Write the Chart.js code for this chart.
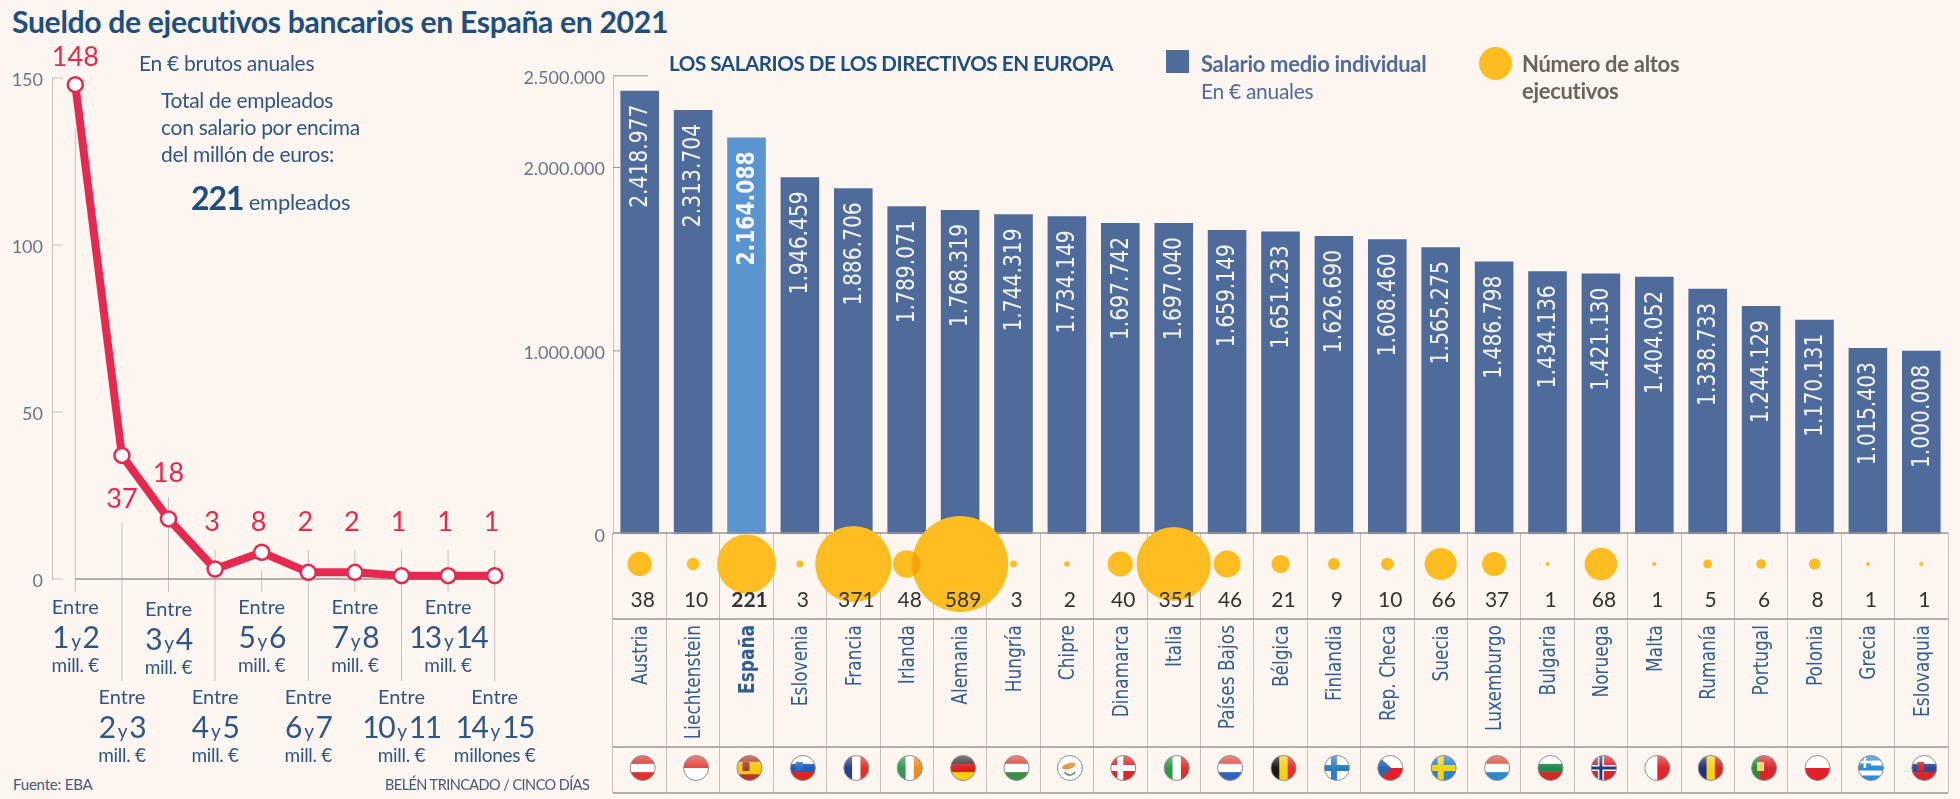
<!DOCTYPE html>
<html lang="es">
<head>
<meta charset="utf-8">
<title>Sueldo de ejecutivos bancarios en España en 2021</title>
<script src="https://cdn.jsdelivr.net/npm/chart.js@4/dist/chart.umd.min.js"></script>
<style>
    html, body { margin: 0; padding: 0; background: #fdf5ef; }
    #page { position: relative; width: 1960px; height: 799px; overflow: hidden; font-family: Lato, sans-serif; color: #2f5688; }
    canvas { position: absolute; }
    .t { position: absolute; transform: translateY(-50%); white-space: nowrap; }
    .title { font-size: 30.2px; font-weight: 700; color: #1f4e80; letter-spacing: -0.35px; }
    .note { font-size: 21px; letter-spacing: -0.3px; }
    .legend { font-size: 22px; letter-spacing: -0.3px; }
    .src { font-size: 15px; color: #45597a; letter-spacing: -0.2px; }
    .range { line-height: 1; }
    .range .a { font-size: 20px; height: 26px; }
    .range .b { font-size: 30px; height: 30px; line-height: 28px; letter-spacing: -1.5px; word-spacing: -3px; }
    .range .b small { font-size: 19px; }
    .range .m { font-size: 19px; height: 22px; line-height: 26px; letter-spacing: -0.3px; }
</style>
</head>
<body>
<div id="page">
    <canvas id="lineChart" width="540" height="660" style="left:0;top:40px"></canvas>
    <canvas id="barChart" width="1460" height="496" style="left:500px;top:57px"></canvas>
    <canvas id="tableChart" width="1460" height="299" style="left:500px;top:500px"></canvas>

    <div class="t title" style="left:12px;top:21px">Sueldo de ejecutivos bancarios en España en 2021</div>

    <div class="t note" style="left:139px;top:62px">En € brutos anuales</div>
    <div class="t note" style="left:161px;top:99px">Total de empleados</div>
    <div class="t note" style="left:161px;top:126px">con salario por encima</div>
    <div class="t note" style="left:161px;top:153px">del millón de euros:</div>
    <div class="t note" style="left:191px;top:197px"><b style="font-size:32px;color:#1f4e80;letter-spacing:-1px">221</b> <span style="font-size:22px">empleados</span></div>

    <div class="t" style="left:669px;top:63px;font-size:20.6px;font-weight:700;color:#1f4e80;letter-spacing:-0.45px">LOS SALARIOS DE LOS DIRECTIVOS EN EUROPA</div>

    <div style="position:absolute;left:1166px;top:50px;width:23px;height:23px;background:#4f6b9b"></div>
    <div class="t legend" style="left:1201px;top:63px;font-weight:700;color:#4f6b9b">Salario medio individual</div>
    <div class="t legend" style="left:1201px;top:90px;color:#4f6b9b;font-size:21px">En € anuales</div>
    <div style="position:absolute;left:1479px;top:47px;width:33px;height:33px;border-radius:50%;background:#fdbc1f"></div>
    <div class="t legend" style="left:1522px;top:63px;font-weight:700;color:#6b6459">Número de altos</div>
    <div class="t legend" style="left:1522px;top:90px;font-weight:700;color:#6b6459">ejecutivos</div>

    <div class="t src" style="left:13px;top:784px">Fuente: EBA</div>
    <div class="t src" style="left:385px;top:784px;font-size:14.5px;letter-spacing:-0.55px">BELÉN TRINCADO / CINCO DÍAS</div>
</div>

<script>
// Left chart: employees per salary band
const rangeFrom = ['1', '2', '3', '4', '5', '6', '7', '10', '13', '14'];
const rangeTo = ['2', '3', '4', '5', '6', '7', '8', '11', '14', '15'];
const rangeUnit = ['mill. €', 'mill. €', 'mill. €', 'mill. €', 'mill. €', 'mill. €', 'mill. €', 'mill. €', 'mill. €', 'millones €'];
const employees = [148, 37, 18, 3, 8, 2, 2, 1, 1, 1];
const employeeTicks = [0, 50, 100, 150];

// Right chart: European countries
const countries = ['Austria', 'Liechtenstein', 'España', 'Eslovenia', 'Francia', 'Irlanda', 'Alemania', 'Hungría', 'Chipre', 'Dinamarca', 'Italia', 'Países Bajos', 'Bélgica', 'Finlandia', 'Rep. Checa', 'Suecia', 'Luxemburgo', 'Bulgaria', 'Noruega', 'Malta', 'Rumanía', 'Portugal', 'Polonia', 'Grecia', 'Eslovaquia'];
const salaries = [2418977, 2313704, 2164088, 1946459, 1886706, 1789071, 1768319, 1744319, 1734149, 1697742, 1697040, 1659149, 1651233, 1626690, 1608460, 1565275, 1486798, 1434136, 1421130, 1404052, 1338733, 1244129, 1170131, 1015403, 1000008];
const executives = [38, 10, 221, 3, 371, 48, 589, 3, 2, 40, 351, 46, 21, 9, 10, 66, 37, 1, 68, 1, 5, 6, 8, 1, 1];
const salaryTicks = [0, 1000000, 2000000, 2500000];

const highlight = 'España';

// Colours
const RED = '#e8294f';
const BLUE = '#4f6b9b';
const LIGHT_BLUE = '#5b95d0';
const YELLOW = '#fdbc1f';
const RULE = '#9c9496';
const GUIDE = '#c8bfbf';
const TICK_TEXT = '#68768c';

// Layout that isn't data: where the red numbers sit and how far each guide runs
const lineLabelY = [57, 499, 473, 522, 522, 522, 522, 522, 522, 522];
const lineLabelX = [0, 0, 0, -3, -3, -3, -3, -3, -3, -3];
const guideTop = [128, 523, 497, 550, 570, 550, 550, 550, 550, 550];
const guideBottom = [592, 681, 592, 681, 592, 681, 592, 681, 592, 681];
const bandLabelTop = [609, 699, 611, 699, 609, 699, 609, 699, 609, 699];

const R5 = '#e2312d', W = '#ffffff';
// Stripes for the little flags, one per country
const flags = [
    { dir: 'h', bands: [R5, W, R5] },
    { dir: 'h', bands: ['#e4443c', W] },
    { dir: 'h', bands: ['#b5382b', '#f6c90e', '#f6c90e', '#b5382b'], extra: 'crest', crest: '#a5402c' },
    { dir: 'h', bands: [W, '#1d5fb5', '#e2231a'], extra: 'crest', crest: '#2b6dbd' },
    { dir: 'v', bands: ['#2a3f8f', W, '#e2312d'] },
    { dir: 'v', bands: ['#2f9a4a', W, '#f28c1c'] },
    { dir: 'h', bands: ['#3a3a3a', '#d8231f', '#f8cf12'] },
    { dir: 'h', bands: ['#e4443c', W, '#3b8f45'] },
    { dir: 'h', bands: [W], extra: 'cyprus' },
    { dir: 'h', bands: ['#e0262b'], extra: 'cross', cross: W },
    { dir: 'v', bands: ['#2f9a4a', W, '#e2312d'] },
    { dir: 'h', bands: ['#e4503f', W, '#2c66c0'] },
    { dir: 'v', bands: ['#1a1a1a', '#f8d312', '#e2312d'] },
    { dir: 'h', bands: [W], extra: 'cross', cross: '#2a7cc7' },
    { dir: 'h', bands: [W, '#e0202a'], extra: 'wedge' },
    { dir: 'h', bands: ['#2a84cf'], extra: 'cross', cross: '#f7d21a' },
    { dir: 'h', bands: ['#e4503f', W, '#2a8ad0'] },
    { dir: 'h', bands: [W, '#1e8a4c', '#d6261f'] },
    { dir: 'h', bands: ['#d8262c'], extra: 'cross', cross: W, inner: '#243a80' },
    { dir: 'v', bands: [W, '#e2262b'] },
    { dir: 'v', bands: ['#22307f', '#f8d312', '#d8262c'] },
    { dir: 'v', bands: ['#2a8a3a', '#d8262c', '#d8262c'], extra: 'crest', crest: '#f3d36b' },
    { dir: 'h', bands: [W, '#e0202a'] },
    { dir: 'h', bands: ['#2a8fd6', W, '#2a8fd6', W, '#2a8fd6'], extra: 'greek' },
    { dir: 'h', bands: [W, '#2a4aa0', '#d8262c'], extra: 'crest', crest: '#d8262c' }
];

function drawFlag(ctx, spec, cx, cy, r) {
    ctx.save();
    ctx.beginPath();
    ctx.arc(cx, cy, r, 0, Math.PI * 2);
    ctx.clip();
    const n = spec.bands.length;
    const d = r * 2;
    spec.bands.forEach((colour, i) => {
        ctx.fillStyle = colour;
        if (spec.dir === 'h') ctx.fillRect(cx - r, cy - r + d * i / n, d, d / n + 0.5);
        else ctx.fillRect(cx - r + d * i / n, cy - r, d / n + 0.5, d);
    });
    if (spec.extra === 'cross') {
        ctx.fillStyle = spec.cross;
        ctx.fillRect(cx - 6, cy - r, 6, d);
        ctx.fillRect(cx - r, cy - 3, d, 6);
        if (spec.inner) {
            ctx.fillStyle = spec.inner;
            ctx.fillRect(cx - 4.5, cy - r, 3, d);
            ctx.fillRect(cx - r, cy - 1.5, d, 3);
        }
    } else if (spec.extra === 'wedge') {
        ctx.fillStyle = '#2a66b5';
        ctx.beginPath();
        ctx.moveTo(cx - r, cy - r);
        ctx.lineTo(cx + 1, cy);
        ctx.lineTo(cx - r, cy + r);
        ctx.fill();
    } else if (spec.extra === 'crest') {
        ctx.fillStyle = spec.crest;
        ctx.fillRect(cx - 7, cy - 6, 7, 9);
    } else if (spec.extra === 'cyprus') {
        ctx.fillStyle = '#e8963a';
        ctx.beginPath();
        ctx.ellipse(cx - 1, cy - 2, 7, 3, -0.3, 0, Math.PI * 2);
        ctx.fill();
        ctx.strokeStyle = '#5c8f5a';
        ctx.lineWidth = 1.5;
        ctx.beginPath();
        ctx.arc(cx, cy + 1, 6, 0.5, Math.PI - 0.5);
        ctx.stroke();
    } else if (spec.extra === 'greek') {
        ctx.fillStyle = '#2a8fd6';
        ctx.fillRect(cx - r, cy - r, r, r);
        ctx.fillStyle = W;
        ctx.fillRect(cx - r, cy - r / 2 - 1, r, 2.5);
        ctx.fillRect(cx - r / 2 - 1, cy - r, 2.5, r);
    }
    // Gloss on the upper half
    const gloss = ctx.createLinearGradient(0, cy - r, 0, cy);
    gloss.addColorStop(0, 'rgba(255,255,255,0.35)');
    gloss.addColorStop(1, 'rgba(255,255,255,0)');
    ctx.fillStyle = gloss;
    ctx.fillRect(cx - r, cy - r, d, r);
    ctx.restore();
    ctx.strokeStyle = '#8f8a8c';
    ctx.lineWidth = 1;
    ctx.beginPath();
    ctx.arc(cx, cy, r, 0, Math.PI * 2);
    ctx.stroke();
}

// Axis furniture of the left chart, drawn under the line
const lineGuides = {
    id: 'lineGuides',
    beforeDatasetsDraw(chart) {
        const { ctx, scales: { x, y } } = chart;
        const canvasTop = 40;
        ctx.save();
        ctx.lineWidth = 1;
        ctx.strokeStyle = GUIDE;
        employees.forEach((v, i) => {
            const px = x.getPixelForValue(i);
            ctx.beginPath();
            ctx.moveTo(px, guideTop[i] - canvasTop);
            ctx.lineTo(px, guideBottom[i] - canvasTop);
            ctx.stroke();
        });
        employeeTicks.forEach(t => {
            ctx.beginPath();
            ctx.moveTo(x.left, y.getPixelForValue(t));
            ctx.lineTo(x.left + 11, y.getPixelForValue(t));
            ctx.stroke();
        });
        ctx.strokeStyle = RULE;
        ctx.lineWidth = 1.5;
        ctx.beginPath();
        ctx.moveTo(x.getPixelForValue(0), y.getPixelForValue(0));
        ctx.lineTo(x.getPixelForValue(employees.length - 1), y.getPixelForValue(0));
        ctx.stroke();
        ctx.restore();
    },
    afterDatasetsDraw(chart) {
        const { ctx, scales: { x } } = chart;
        ctx.save();
        ctx.fillStyle = RED;
        ctx.font = '27px Lato, sans-serif';
        ctx.textAlign = 'center';
        ctx.textBaseline = 'middle';
        employees.forEach((v, i) => {
            ctx.fillText(v, x.getPixelForValue(i) + lineLabelX[i], lineLabelY[i] - 40);
        });
        ctx.restore();
    }
};

// Values written upwards inside each bar, plus the short axis ticks
const barLabels = {
    id: 'barLabels',
    afterDatasetsDraw(chart) {
        const { ctx, scales: { x, y } } = chart;
        const bars = chart.getDatasetMeta(0).data;
        ctx.save();
        ctx.strokeStyle = RULE;
        ctx.lineWidth = 1;
        salaryTicks.forEach(t => {
            if (t === 0) return;
            ctx.beginPath();
            ctx.moveTo(x.left, y.getPixelForValue(t));
            ctx.lineTo(x.left + (t === 2500000 ? 35 : 7), y.getPixelForValue(t));
            ctx.stroke();
        });
        ctx.fillStyle = '#f4f5fa';
        ctx.textAlign = 'right';
        ctx.textBaseline = 'middle';
        bars.forEach((bar, i) => {
            ctx.save();
            ctx.translate(bar.x + 1, bar.y + 14);
            ctx.rotate(-Math.PI / 2);
            // The original type is stretched across its height
            ctx.scale(1, 1.2);
            ctx.font = (countries[i] === highlight ? 'bold ' : '') + '20.3px "DejaVu Sans", sans-serif';
            ctx.fillText(salaries[i].toLocaleString('es-ES'), 0, 0);
            ctx.restore();
        });
        ctx.restore();
    }
};

// Rules, overlap tint, head counts, country names and flags of the table under the bars
const tableRows = {
    id: 'tableRows',
    beforeDatasetsDraw(chart) {
        const { ctx, chartArea: a } = chart;
        const canvasTop = 500;
        ctx.save();
        ctx.strokeStyle = RULE;
        ctx.lineWidth = 1.5;
        [533, 619, 747, 793].forEach(py => {
            ctx.beginPath();
            ctx.moveTo(a.left, py - canvasTop);
            ctx.lineTo(a.right, py - canvasTop);
            ctx.stroke();
        });
        ctx.restore();
    },
    afterDatasetsDraw(chart) {
        const { ctx, scales: { x } } = chart;
        const canvasTop = 500;
        const shift = 3;
        const bubbles = chart.getDatasetMeta(0).data;

        // Irlanda shows through Alemania where the two circles cross
        const big = bubbles[countries.indexOf('Alemania')];
        const small = bubbles[countries.indexOf('Irlanda')];
        ctx.save();
        ctx.beginPath();
        ctx.arc(big.x, big.y, big.options.radius, 0, Math.PI * 2);
        ctx.clip();
        ctx.fillStyle = '#f5a30c';
        ctx.beginPath();
        ctx.arc(small.x, small.y, small.options.radius, 0, Math.PI * 2);
        ctx.fill();
        ctx.restore();

        ctx.save();
        ctx.textBaseline = 'middle';
        countries.forEach((name, i) => {
            const bold = name === highlight;
            const px = x.getPixelForValue(i) + shift;
            ctx.fillStyle = '#35322f';
            ctx.textAlign = 'center';
            ctx.font = (bold ? 'bold ' : '') + '21px Lato, sans-serif';
            ctx.fillText(executives[i], px, 600 - canvasTop);

            ctx.save();
            ctx.translate(px - 1, 625 - canvasTop);
            ctx.rotate(-Math.PI / 2);
            ctx.scale(1, 1.2);
            ctx.textAlign = 'right';
            ctx.fillStyle = '#2f5e92';
            ctx.font = (bold ? 'bold ' : '') + '17px "DejaVu Sans", sans-serif';
            ctx.fillText(name, 0, 0);
            ctx.restore();

            drawFlag(ctx, flags[i], px, 768 - canvasTop, 12.5);
        });
        ctx.restore();
    }
};

// An x axis that takes no room, so the chart area lands exactly on the layout padding
const flatX = {
    afterFit: scale => { scale.height = 0; },
    grid: { display: false, drawTicks: false },
    border: { display: false },
    ticks: { display: false }
};

const lineChart = new Chart(document.getElementById('lineChart'), {
    type: 'line',
    data: {
        labels: rangeFrom.map((from, i) => `Entre ${from} y ${rangeTo[i]}`),
        datasets: [{
            data: employees,
            borderColor: RED,
            borderWidth: 8,
            tension: 0,
            pointRadius: 7.5,
            pointBorderWidth: 2.5,
            pointBackgroundColor: '#ffffff',
            pointBorderColor: RED,
            clip: false
        }]
    },
    options: {
        responsive: false,
        animation: false,
        layout: { autoPadding: false, padding: { left: 0, top: 38, right: 22, bottom: 121 } },
        plugins: { legend: { display: false }, tooltip: { enabled: false } },
        scales: {
            x: { ...flatX, offset: true },
            y: {
                min: 0,
                max: 150,
                afterFit: scale => { scale.width = 52; },
                afterBuildTicks: scale => { scale.ticks = employeeTicks.map(value => ({ value })); },
                grid: { display: false, drawTicks: false },
                border: { color: GUIDE },
                ticks: { color: TICK_TEXT, padding: 9, labelOffset: 2, font: { family: 'Lato', size: 18 } }
            }
        }
    },
    plugins: [lineGuides]
});

new Chart(document.getElementById('barChart'), {
    type: 'bar',
    data: {
        labels: countries,
        datasets: [{
            data: salaries,
            backgroundColor: countries.map(name => name === highlight ? LIGHT_BLUE : BLUE),
            barPercentage: 0.723,
            categoryPercentage: 1
        }]
    },
    options: {
        responsive: false,
        animation: false,
        layout: { autoPadding: false, padding: { left: 0, top: 16, right: 12, bottom: 12 } },
        plugins: { legend: { display: false }, tooltip: { enabled: false } },
        scales: {
            x: flatX,
            y: {
                min: 0,
                max: 2500000,
                afterFit: scale => { scale.width = 113; },
                afterBuildTicks: scale => { scale.ticks = salaryTicks.map(value => ({ value })); },
                grid: { display: false, drawTicks: false },
                border: { color: GUIDE },
                ticks: {
                    color: TICK_TEXT,
                    padding: 8,
                    labelOffset: 2,
                    font: { family: 'Lato', size: 18 },
                    callback: value => value.toLocaleString('es-ES')
                }
            }
        }
    },
    plugins: [barLabels]
});

new Chart(document.getElementById('tableChart'), {
    type: 'bubble',
    data: {
        labels: countries,
        datasets: [{
            // Circle area follows the head count, Alemania (589) being 48px in radius
            data: countries.map((name, i) => ({ x: name, y: 0, r: 48 * Math.sqrt(executives[i] / 589) })),
            backgroundColor: YELLOW,
            borderWidth: 0,
            clip: false
        }]
    },
    options: {
        responsive: false,
        animation: false,
        layout: { autoPadding: false, padding: { left: 113, top: 33, right: 12, bottom: 6 } },
        plugins: { legend: { display: false }, tooltip: { enabled: false } },
        scales: {
            x: {
                ...flatX,
                type: 'category',
                offset: true,
                grid: { offset: true, color: GUIDE, drawTicks: false }
            },
            // The circles sit on one row, 31px under the top rule
            y: { display: false, min: -229, max: 31 }
        }
    },
    plugins: [tableRows]
});

// Band captions under the left chart, hung from the category positions
const page = document.getElementById('page');
rangeFrom.forEach((from, i) => {
    const label = document.createElement('div');
    label.className = 'range';
    label.style.cssText = `position:absolute;text-align:center;white-space:nowrap;transform:translateX(-50%);top:${bandLabelTop[i] - 13}px;left:${lineChart.scales.x.getPixelForValue(i)}px`;
    label.innerHTML = `<div class="a">Entre</div><div class="b">${from} <small>y</small> ${rangeTo[i]}</div><div class="m">${rangeUnit[i]}</div>`;
    page.appendChild(label);
});
</script>
</body>
</html>
